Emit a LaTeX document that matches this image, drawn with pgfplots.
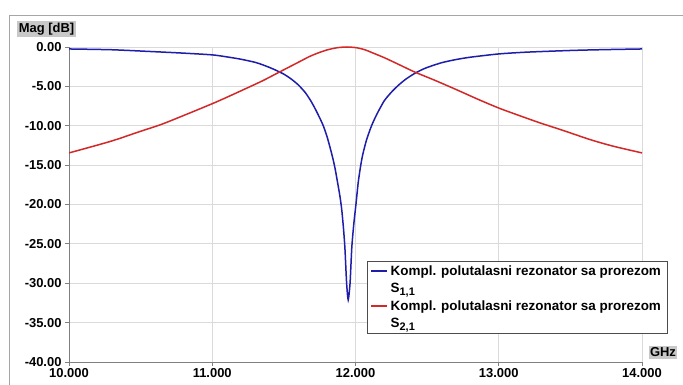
\documentclass[border=0pt]{standalone}
\usepackage{fontspec}
\setmainfont{Liberation Sans}
\usepackage{pgfplots}
\pgfplotsset{compat=1.18}
\definecolor{cblue}{RGB}{30,30,170}
\definecolor{cred}{RGB}{210,40,40}
\definecolor{gridc}{RGB}{218,218,218}
\definecolor{axc}{RGB}{128,128,128}
\definecolor{boxc}{RGB}{200,200,200}
\newcommand{\sub}[1]{\raisebox{-0.35ex}{\fontsize{11}{12}\selectfont #1}}
\begin{document}
\begin{tikzpicture}[font=\fontsize{13}{15}\selectfont\bfseries]
\useasboundingbox (0,0) rectangle (683bp,385bp);
\fill[white] (0,0) rectangle (683bp,385bp);
\draw[color=gray!70, line width=1bp] (9bp,0) -- (9bp,369bp) -- (683bp,369bp);
\node[fill=boxc, inner sep=1.5bp, anchor=center] at (46.5bp,356bp) {Mag [dB]};
\node[fill=boxc, inner sep=1.5bp, anchor=center] at (663bp,32.5bp) {GHz};
\begin{axis}[
  at={(69bp,23bp)}, anchor=south west, scale only axis, width=573bp, height=315bp,
  xmin=10, xmax=14, ymin=-40, ymax=0,
  xtick={10,11,12,13,14}, ytick={-40,-35,-30,-25,-20,-15,-10,-5,0},
  axis lines*=left, axis line style={axc, line width=0.8bp},
  tick align=outside, major tick length=4bp, tick style={axc, line width=0.8bp},
  grid=major, major grid style={gridc, line width=0.8bp},
  /pgf/number format/assume math mode=true,
  /pgf/number format/1000 sep={},
  xticklabel style={/pgf/number format/fixed, /pgf/number format/fixed zerofill, /pgf/number format/precision=3, yshift=1bp},
  yticklabel style={/pgf/number format/fixed, /pgf/number format/fixed zerofill, /pgf/number format/precision=2},
  legend cell align=left,
  legend style={at={(0.520,0.3206)}, anchor=north west, draw=black!70, fill=white, line width=0.8bp,
    inner xsep=3bp, inner ysep=2bp, row sep=2.5bp, font=\fontsize{13.5}{15}\selectfont\bfseries,
    nodes={inner xsep=3bp}},
  legend image code/.code={\draw[#1, line width=1.3bp] (0bp,0bp) -- (16bp,0bp);},
]
\addplot[cblue, line width=1.5bp, smooth, tension=0.4] coordinates {
(10,-0.25)(10.3,-0.35)(10.6,-0.6)(10.8,-0.78)(11,-1.0)(11.1,-1.25)(11.2,-1.55)(11.3,-1.95)(11.35,-2.25)(11.4,-2.6)(11.45,-3.0)(11.5,-3.45)(11.55,-4.05)(11.6,-4.8)(11.65,-5.8)(11.69,-6.9)(11.72,-7.9)(11.75,-9.0)(11.775,-10)(11.8,-11.3)(11.82,-12.6)(11.84,-14)(11.856,-15.3)(11.87,-16.7)(11.89,-18.8)(11.903,-20.5)(11.915,-22.8)(11.926,-25.5)(11.938,-30)(11.949,-32.1)(11.962,-30)(11.974,-25.5)(11.988,-22.5)(12.003,-20)(12.019,-17.2)(12.035,-15.2)(12.05,-13.7)(12.077,-11.8)(12.112,-10)(12.15,-8.5)(12.2,-6.85)(12.25,-5.75)(12.3,-4.85)(12.35,-4.1)(12.4,-3.5)(12.45,-3.0)(12.5,-2.6)(12.6,-2.0)(12.7,-1.6)(12.8,-1.3)(13,-0.88)(13.2,-0.65)(13.52,-0.43)(13.75,-0.33)(14,-0.25)
};
\addlegendentry{Kompl. polutalasni rezonator sa prorezom}
\addlegendimage{empty legend}
\addlegendentry{S\sub{1,1}}
\addplot[cred, line width=1.5bp, smooth, tension=0.5] coordinates {
(10,-13.45)(10.29,-11.98)(10.5,-10.7)(10.64,-9.86)(10.8,-8.7)(11,-7.2)(11.1,-6.4)(11.22,-5.4)(11.35,-4.3)(11.47,-3.17)(11.6,-1.95)(11.68,-1.2)(11.74,-0.75)(11.8,-0.38)(11.87,-0.1)(11.94,0)(12.01,-0.1)(12.07,-0.38)(12.12,-0.75)(12.2,-1.35)(12.3,-2.2)(12.41,-3.15)(12.55,-4.2)(12.705,-5.42)(12.85,-6.6)(13,-7.75)(13.15,-8.75)(13.29,-9.65)(13.45,-10.6)(13.64,-11.77)(13.8,-12.6)(14,-13.45)
};
\addlegendentry{Kompl. polutalasni rezonator sa prorezom}
\addlegendimage{empty legend}
\addlegendentry{S\sub{2,1}}
\end{axis}
\end{tikzpicture}
\end{document}
